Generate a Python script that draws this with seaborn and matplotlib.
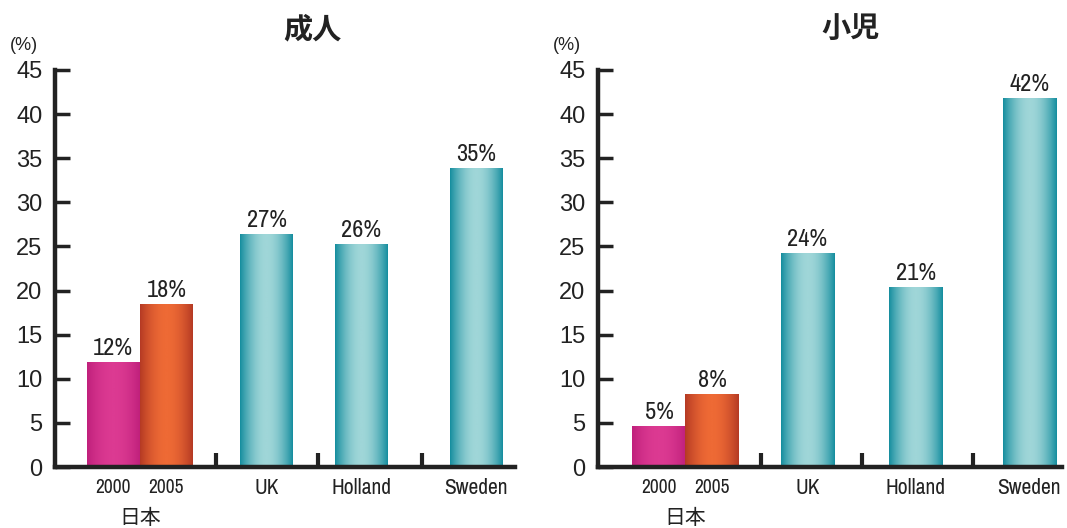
import numpy as np
import pandas as pd
import matplotlib
matplotlib.use("Agg")
import matplotlib.pyplot as plt
import matplotlib.transforms as mtransforms
from matplotlib.colors import LinearSegmentedColormap
from matplotlib import font_manager
from matplotlib.font_manager import FontProperties
import seaborn as sns

# ---------------- data ----------------
categories = ["2000", "2005", "UK", "Holland", "Sweden"]
adult_values = [11.9, 18.5, 26.4, 25.3, 33.9]
child_values = [4.7, 8.3, 24.3, 20.4, 41.8]
adult_labels = ["12%", "18%", "27%", "26%", "35%"]
child_labels = ["5%", "8%", "24%", "21%", "42%"]
y_ticks = [0, 5, 10, 15, 20, 25, 30, 35, 40, 45]
group_label = "日本"
titles = ["成人", "小児"]
unit_label = "(%)"

# ---------------- layout ----------------
adult_slots = [1.1, 2.1, 4.0, 5.78, 7.95]
child_slots = [1.15, 2.15, 3.95, 5.99, 8.13]
adult_seps = [3.04, 4.96, 6.92]
child_seps = [3.08, 4.98, 7.08]
adult_xlim = (0, 8.68)
child_xlim = (0, 8.75)

sns.set_theme(style="white")
cjk = "Noto Sans CJK JP"
plt.rcParams["font.family"] = ["Liberation Sans", cjk, "DejaVu Sans"]

# find a condensed / narrow face for the labels
narrow_path = None
for f in font_manager.fontManager.ttflist:
    fn = f.fname.lower()
    if "narrow" in fn and "bold" not in fn and "italic" not in fn:
        narrow_path = f.fname
        break
if narrow_path is None:
    for f in font_manager.fontManager.ttflist:
        fn = f.fname.lower()
        if "condensed" in fn and "bold" not in fn and "oblique" not in fn and "italic" not in fn and "sans" in fn and "mono" not in fn:
            narrow_path = f.fname
            break


def nfp(size):
    if narrow_path:
        return FontProperties(fname=narrow_path, size=size)
    return FontProperties(family="Liberation Sans", size=size)


palette = {"2000": "#d6338c", "2005": "#e05a2c", "UK": "#3aa7b3",
           "Holland": "#3aa7b3", "Sweden": "#3aa7b3"}
cmaps = {
    "2000": LinearSegmentedColormap.from_list("m", ["#c0207c", "#dc3a92"]),
    "2005": LinearSegmentedColormap.from_list("o", ["#b53a24", "#ee6a35"]),
    "teal": LinearSegmentedColormap.from_list("t", ["#168e9f", "#9fd6d8"]),
}

fig = plt.figure(figsize=(10.67, 5.28), dpi=100)
ax_l = fig.add_axes([55 / 1067, 61 / 528, 460 / 1067, 397 / 528])
ax_r = fig.add_axes([598 / 1067, 61 / 528, 464 / 1067, 397 / 528])

t = np.linspace(0, 1, 64)
profile = np.sin(np.pi * t) ** 0.9
grad = np.tile(profile, (2, 1))


def draw(ax, values, labels, slots, seps, xlim):
    df = pd.DataFrame({"pos": slots, "value": values, "cat": categories})
    sns.barplot(data=df, x="pos", y="value", hue="cat", hue_order=categories,
                palette=palette, native_scale=True, dodge=False, width=1.0,
                legend=False, ax=ax, saturation=1, linewidth=0)
    for cat, cont, lab in zip(categories, ax.containers, labels):
        for p in cont.patches:
            bb = p.get_bbox()
            cm = cmaps.get(cat, cmaps["teal"])
            im = ax.imshow(grad, extent=[bb.x0, bb.x1, bb.y0, bb.y1],
                           aspect="auto", cmap=cm, vmin=0, vmax=1,
                           zorder=p.get_zorder() + 0.1, interpolation="bilinear")
            im.set_clip_path(p)
        ax.bar_label(cont, labels=[lab], padding=2, fontproperties=nfp(17.5),
                     color="#222222")
    ax.set_xlim(*xlim)
    ax.set_ylim(0, 45)
    ax.set_yticks(y_ticks)
    ax.set_xticks(slots)
    ax.set_xticklabels(categories)
    for tl, c in zip(ax.get_xticklabels(), categories):
        tl.set_fontproperties(nfp(14 if c in ("2000", "2005") else 15.5))
        tl.set_color("#222222")
    ax.set_xticks(seps, minor=True)
    ax.tick_params(axis="x", which="major", length=0, pad=8, bottom=True)
    ax.tick_params(axis="x", which="minor", direction="in", length=10,
                   width=3, color="#222222", bottom=True)
    ax.tick_params(axis="y", direction="in", length=11, width=2.5,
                   color="#222222", labelsize=17, pad=9, left=True,
                   labelcolor="#222222")
    ax.set_xlabel("")
    ax.set_ylabel("")
    for s in ("top", "right"):
        ax.spines[s].set_visible(False)
    for s in ("left", "bottom"):
        ax.spines[s].set_linewidth(3.2)
        ax.spines[s].set_color("#222222")
    trans = mtransforms.blended_transform_factory(ax.transData, ax.transAxes)
    ax.text(np.mean(slots[:2]), -0.128, group_label, transform=trans,
            ha="center", va="center", fontsize=15, family=[cjk, "DejaVu Sans"],
            color="#222222")


draw(ax_l, adult_values, adult_labels, adult_slots, adult_seps, adult_xlim)
draw(ax_r, child_values, child_labels, child_slots, child_seps, child_xlim)

fig.text(312 / 1067, 1 - 29 / 528, titles[0], ha="center", va="center",
         fontsize=21, weight="bold", family=[cjk, "DejaVu Sans"], color="#222222")
fig.text(851 / 1067, 1 - 29 / 528, titles[1], ha="center", va="center",
         fontsize=21, weight="bold", family=[cjk, "DejaVu Sans"], color="#222222")
fig.text(24 / 1067, 1 - 45 / 528, unit_label, ha="center", va="center",
         fontsize=13, color="#222222")
fig.text(567 / 1067, 1 - 45 / 528, unit_label, ha="center", va="center",
         fontsize=13, color="#222222")

fig.savefig("out.png", dpi=100)
